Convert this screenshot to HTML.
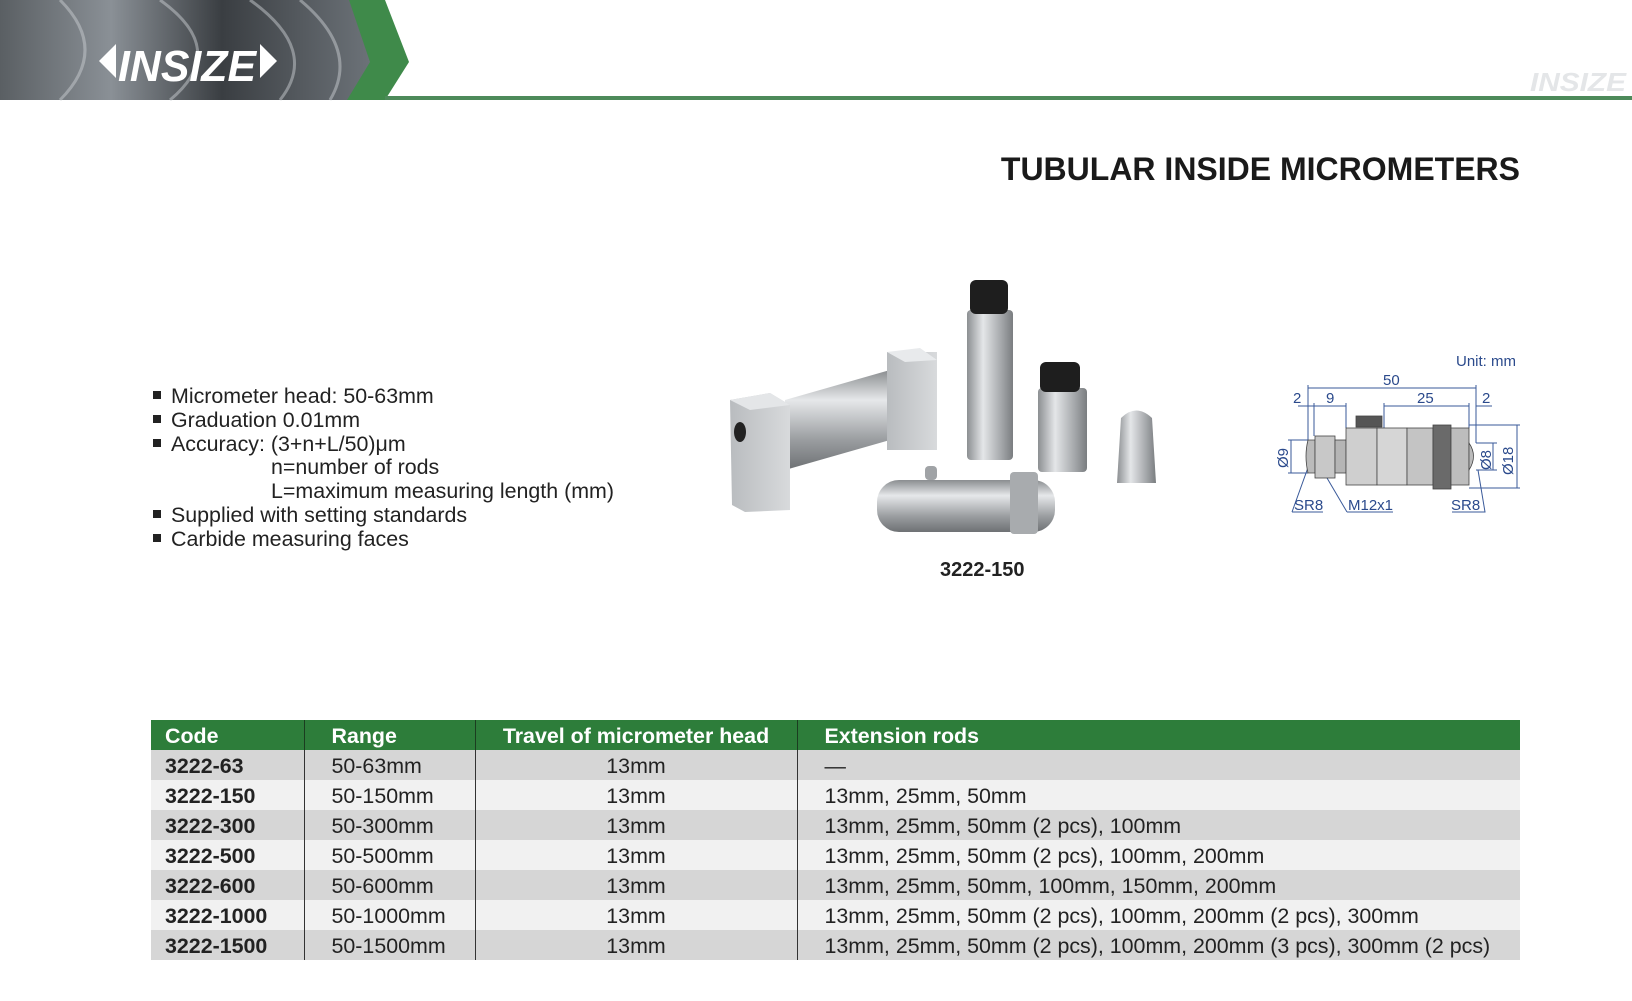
<!DOCTYPE html>
<html><head><meta charset="utf-8"><style>
*{margin:0;padding:0;box-sizing:border-box}
body{width:1632px;height:1001px;background:#fff;position:relative;overflow:hidden;font-family:"Liberation Sans",sans-serif;color:#222}
.abs{position:absolute}
.title{position:absolute;right:112px;top:151px;font-size:32px;font-weight:bold;color:#1a1a1a;white-space:nowrap}
.bul{position:absolute;left:153px;font-size:21.4px;color:#222;white-space:nowrap}
.bul i{display:inline-block;width:8px;height:8px;background:#222;margin-right:10px;vertical-align:4px}
table{position:absolute;left:151px;top:720px;width:1369px;border-collapse:collapse;font-size:21.4px}
td,th{height:30px;padding:2px 0 0 14px;text-align:left;white-space:nowrap}
th{background:#2d7d3a;color:#fff;font-weight:bold}
tr:nth-child(even) td{background:#d6d6d6}
tr:nth-child(odd) td{background:#f1f1f1}
td:first-child{font-weight:bold}
td:nth-child(3),th:nth-child(3){text-align:center;padding-left:0}
td+td,th+th{border-left:1.5px solid #333}
th+th{border-left-color:#1b3d20}
th:nth-child(2){padding-left:27px}
</style></head><body>
<svg class="abs" style="left:0;top:0" width="1632" height="1001">
<defs>
<linearGradient id="hd" x1="0" x2="1"><stop offset="0" stop-color="#5a5f63"/><stop offset=".3" stop-color="#8a9096"/><stop offset=".6" stop-color="#3a3e42"/><stop offset="1" stop-color="#6c7278"/></linearGradient>
<linearGradient id="cyl" x1="0" y1="0" x2="0" y2="1"><stop offset="0" stop-color="#8a8d90"/><stop offset=".3" stop-color="#e6e8ea"/><stop offset=".7" stop-color="#9a9da0"/><stop offset="1" stop-color="#6e7174"/></linearGradient>
<linearGradient id="vcyl" x1="0" x2="1"><stop offset="0" stop-color="#8c8f92"/><stop offset=".35" stop-color="#e4e6e8"/><stop offset=".75" stop-color="#a4a7aa"/><stop offset="1" stop-color="#7a7d80"/></linearGradient>
<linearGradient id="blk" x1="0" x2="1"><stop offset="0" stop-color="#b9bcbf"/><stop offset="1" stop-color="#d8dadc"/></linearGradient>
</defs>
<rect x="0" y="0" width="370" height="100" fill="url(#hd)"/>
<g stroke="#c8ccd0" stroke-width="3" fill="none" opacity=".5">
<path d="M60 0 Q110 50 60 100"/><path d="M160 0 Q230 50 170 100"/><path d="M250 0 Q320 50 280 100"/><path d="M300 0 Q360 50 330 100"/></g>
<polygon points="349,0 385,0 409,62 385,100 347,100 370,62" fill="#3f8a4a"/>
<rect x="385" y="96" width="1247" height="4" fill="#4d8a5a"/>
<text x="118" y="81" font-family="Liberation Sans Narrow,Liberation Sans,sans-serif" font-size="44" font-weight="bold" font-style="italic" fill="#fff" textLength="138" lengthAdjust="spacingAndGlyphs">INSIZE</text>
<polygon points="99,61 116,44 116,78" fill="#fff"/><polygon points="277,61 260,44 260,78" fill="#fff"/>
<text x="1530" y="91" font-size="26" font-weight="bold" font-style="italic" fill="#e4e6e8" textLength="96" lengthAdjust="spacingAndGlyphs">INSIZE</text>
<polygon points="785,400 890,370 890,440 785,470" fill="url(#cyl)"/>
<rect x="887" y="352" width="50" height="98" fill="url(#blk)"/>
<polygon points="887,352 920,348 937,360 905,362" fill="#e8eaec"/>
<polygon points="730,400 770,393 790,405 790,510 745,512 732,505" fill="url(#blk)"/>
<polygon points="730,400 770,393 790,405 750,410" fill="#e4e6e8"/>
<ellipse cx="740" cy="432" rx="6" ry="10" fill="#222"/>
<rect x="967" y="310" width="46" height="150" rx="4" fill="url(#vcyl)"/>
<rect x="970" y="280" width="38" height="34" rx="6" fill="#1e1e1e"/>
<rect x="1038" y="388" width="49" height="84" rx="4" fill="url(#vcyl)"/>
<rect x="1040" y="362" width="40" height="30" rx="6" fill="#1e1e1e"/>
<path d="M1121 418 Q1136 403 1152 418 L1156 483 L1117 483 Z" fill="url(#vcyl)"/>
<rect x="877" y="480" width="178" height="52" rx="22" fill="url(#cyl)"/>
<rect x="925" y="466" width="12" height="14" rx="4" fill="#a0a3a6"/>
<rect x="1010" y="472" width="28" height="62" rx="4" fill="#a8abae"/>
<g stroke="#3a5a9a" stroke-width="1" fill="none">
<line x1="1308" y1="388" x2="1476" y2="388"/>
<line x1="1298" y1="406" x2="1346" y2="406"/><line x1="1384" y1="406" x2="1469" y2="406"/><line x1="1476" y1="406" x2="1492" y2="406"/>
<line x1="1308" y1="385" x2="1308" y2="440"/><line x1="1314" y1="403" x2="1314" y2="436"/><line x1="1346" y1="403" x2="1346" y2="428"/>
<line x1="1384" y1="403" x2="1384" y2="428"/><line x1="1469" y1="403" x2="1469" y2="428"/><line x1="1476" y1="385" x2="1476" y2="443"/>
<line x1="1291" y1="440" x2="1291" y2="473"/><line x1="1288" y1="440" x2="1308" y2="440"/><line x1="1288" y1="473" x2="1308" y2="473"/>
<line x1="1493" y1="443" x2="1493" y2="470"/><line x1="1476" y1="443" x2="1497" y2="443"/><line x1="1476" y1="470" x2="1497" y2="470"/>
<line x1="1517" y1="425" x2="1517" y2="488"/><line x1="1469" y1="425" x2="1520" y2="425"/><line x1="1469" y1="488" x2="1520" y2="488"/>
<path d="M1292 512 L1323 512 M1292 512 L1310 462"/><path d="M1347 512 L1393 512 M1347 512 L1327 478"/><path d="M1452 512 L1485 512 L1478 470"/>
</g>
<g stroke="#444" stroke-width="0.8">
<path d="M1308 473 Q1304 456 1308 440 L1315 440 L1315 473 Z" fill="#bbb"/>
<rect x="1315" y="436" width="20" height="42" fill="#c8c8c8"/>
<rect x="1335" y="440" width="11" height="33" fill="#b5b5b5"/>
<rect x="1346" y="428" width="31" height="57" fill="#cfcfcf"/>
<rect x="1356" y="416" width="26" height="11" fill="#555"/>
<rect x="1377" y="428" width="30" height="57" fill="#d6d6d6"/>
<rect x="1407" y="428" width="26" height="57" fill="#c4c4c4"/>
<rect x="1433" y="425" width="18" height="64" fill="#6a6a6a"/>
<rect x="1451" y="428" width="18" height="57" fill="#bdbdbd"/>
<path d="M1469 443 Q1478 456 1469 470 Z" fill="#bbb"/>
</g>
<g font-size="15" fill="#2b4a8c">
<text x="1456" y="366">Unit: mm</text>
<text x="1383" y="385">50</text>
<text x="1293" y="403">2</text><text x="1326" y="403">9</text><text x="1417" y="403">25</text><text x="1482" y="403">2</text>
<text x="1294" y="510">SR8</text><text x="1348" y="510">M12x1</text><text x="1451" y="510">SR8</text>
<text transform="translate(1288,468) rotate(-90)">Ø9</text>
<text transform="translate(1491,470) rotate(-90)">Ø8</text>
<text transform="translate(1513,475) rotate(-90)">Ø18</text>
</g>
</svg>
<div class="title">TUBULAR INSIDE MICROMETERS</div>
<div class="bul" style="top:384px"><i></i>Micrometer head: 50-63mm</div>
<div class="bul" style="top:408px"><i></i>Graduation 0.01mm</div>
<div class="bul" style="top:432px"><i></i>Accuracy: (3+n+L/50)μm</div>
<div class="bul" style="top:455px;left:271px">n=number of rods</div>
<div class="bul" style="top:479px;left:271px">L=maximum measuring length (mm)</div>
<div class="bul" style="top:503px"><i></i>Supplied with setting standards</div>
<div class="bul" style="top:527px"><i></i>Carbide measuring faces</div>
<div class="abs" style="left:940px;top:559px;font-size:20px;font-weight:bold">3222-150</div>
<table>
<colgroup><col style="width:153px"><col style="width:171px"><col style="width:322px"><col></colgroup>
<tr><th>Code</th><th>Range</th><th>Travel of micrometer head</th><th style="padding-left:27px">Extension rods</th></tr>
<tr><td>3222-63</td><td style="padding-left:27px">50-63mm</td><td>13mm</td><td style="padding-left:27px">—</td></tr>
<tr><td>3222-150</td><td style="padding-left:27px">50-150mm</td><td>13mm</td><td style="padding-left:27px">13mm, 25mm, 50mm</td></tr>
<tr><td>3222-300</td><td style="padding-left:27px">50-300mm</td><td>13mm</td><td style="padding-left:27px">13mm, 25mm, 50mm (2 pcs), 100mm</td></tr>
<tr><td>3222-500</td><td style="padding-left:27px">50-500mm</td><td>13mm</td><td style="padding-left:27px">13mm, 25mm, 50mm (2 pcs), 100mm, 200mm</td></tr>
<tr><td>3222-600</td><td style="padding-left:27px">50-600mm</td><td>13mm</td><td style="padding-left:27px">13mm, 25mm, 50mm, 100mm, 150mm, 200mm</td></tr>
<tr><td>3222-1000</td><td style="padding-left:27px">50-1000mm</td><td>13mm</td><td style="padding-left:27px">13mm, 25mm, 50mm (2 pcs), 100mm, 200mm (2 pcs), 300mm</td></tr>
<tr><td>3222-1500</td><td style="padding-left:27px">50-1500mm</td><td>13mm</td><td style="padding-left:27px">13mm, 25mm, 50mm (2 pcs), 100mm, 200mm (3 pcs), 300mm (2 pcs)</td></tr>
</table>
</body></html>
